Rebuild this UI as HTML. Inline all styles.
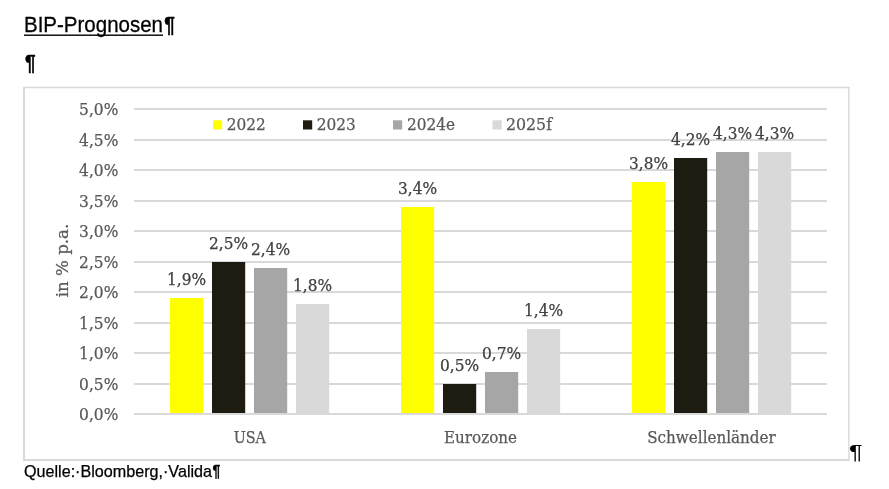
<!DOCTYPE html>
<html lang="de">
<head>
<meta charset="utf-8">
<title>BIP-Prognosen</title>
<style>
html,body{margin:0;padding:0;background:#fff;}
body{width:889px;height:489px;overflow:hidden;position:relative;}
svg{position:absolute;left:0;top:0;display:block;}
.sans{font-family:"Liberation Sans","DejaVu Sans",sans-serif;fill:#000;}
.serif{font-family:"DejaVu Serif","Liberation Serif",serif;font-size:16px;}
.ax{fill:#595959;stroke:#595959;stroke-width:0.25px;}
.dl{fill:#404040;stroke:#404040;stroke-width:0.25px;}
.pm{font-weight:bold;}
</style>
</head>
<body>
<svg width="889" height="489" viewBox="0 0 889 489">
<rect x="0" y="0" width="889" height="489" fill="#ffffff"/>

<!-- heading -->
<text class="sans" x="24" y="32" font-size="22.5" textLength="139" lengthAdjust="spacingAndGlyphs" stroke="#000" stroke-width="0.3">BIP-Prognosen</text>
<rect x="24" y="34.5" width="139" height="1.4" fill="#000"/>
<text class="sans pm" x="164.3" y="32.2" font-size="22.6" textLength="10.6" lengthAdjust="spacingAndGlyphs" stroke="#000" stroke-width="0.5">¶</text>
<text class="sans pm" x="25" y="69.9" font-size="22.8" textLength="10.6" lengthAdjust="spacingAndGlyphs" stroke="#000" stroke-width="0.5">¶</text>

<!-- chart frame -->
<g stroke="#d9d9d9" fill="none">
<line x1="24" x2="24" y1="86.9" y2="461" stroke-width="2"/>
<line x1="23" x2="849.6" y1="87.5" y2="87.5" stroke-width="1.3"/>
<line x1="848.9" x2="848.9" y1="86.9" y2="461" stroke-width="1.4"/>
<line x1="23" x2="849.6" y1="460" y2="460" stroke-width="2"/>
</g>

<!-- gridlines -->
<g stroke="#d9d9d9" stroke-width="2">
<line x1="134" x2="827" y1="109.0" y2="109.0"/>
<line x1="134" x2="827" y1="140.0" y2="140.0"/>
<line x1="134" x2="827" y1="170.0" y2="170.0"/>
<line x1="134" x2="827" y1="201.0" y2="201.0"/>
<line x1="134" x2="827" y1="231.0" y2="231.0"/>
<line x1="134" x2="827" y1="262.0" y2="262.0"/>
<line x1="134" x2="827" y1="292.0" y2="292.0"/>
<line x1="134" x2="827" y1="323.0" y2="323.0"/>
<line x1="134" x2="827" y1="353.0" y2="353.0"/>
<line x1="134" x2="827" y1="384.0" y2="384.0"/>
<line x1="134" x2="827" y1="414.0" y2="414.0"/>
</g>
<!-- y axis labels -->
<g class="serif ax">
<text x="79.1" y="115.0" textLength="39.2" lengthAdjust="spacingAndGlyphs">5,0%</text>
<text x="79.1" y="146.0" textLength="39.2" lengthAdjust="spacingAndGlyphs">4,5%</text>
<text x="79.1" y="176.0" textLength="39.2" lengthAdjust="spacingAndGlyphs">4,0%</text>
<text x="79.1" y="207.0" textLength="39.2" lengthAdjust="spacingAndGlyphs">3,5%</text>
<text x="79.1" y="237.0" textLength="39.2" lengthAdjust="spacingAndGlyphs">3,0%</text>
<text x="79.1" y="268.0" textLength="39.2" lengthAdjust="spacingAndGlyphs">2,5%</text>
<text x="79.1" y="298.0" textLength="39.2" lengthAdjust="spacingAndGlyphs">2,0%</text>
<text x="79.1" y="329.0" textLength="39.2" lengthAdjust="spacingAndGlyphs">1,5%</text>
<text x="79.1" y="359.0" textLength="39.2" lengthAdjust="spacingAndGlyphs">1,0%</text>
<text x="79.1" y="390.0" textLength="39.2" lengthAdjust="spacingAndGlyphs">0,5%</text>
<text x="79.1" y="420.0" textLength="39.2" lengthAdjust="spacingAndGlyphs">0,0%</text>
</g>
<text class="serif ax" transform="translate(67.6,297.2) rotate(-90)" textLength="73.5" lengthAdjust="spacingAndGlyphs">in % p.a.</text>
<!-- bars -->
<g fill="#ffff00">
<rect x="170" y="298.0" width="33.2" height="115.0"/>
<rect x="401" y="207.0" width="33.2" height="206.0"/>
<rect x="632" y="182.0" width="33.2" height="231.0"/>
</g>
<g fill="#1e1c11">
<rect x="212" y="262.0" width="33.2" height="151.0"/>
<rect x="443" y="384.0" width="33.2" height="29.0"/>
<rect x="674" y="158.0" width="33.2" height="255.0"/>
</g>
<g fill="#a6a6a6">
<rect x="254" y="268.0" width="33.2" height="145.0"/>
<rect x="485" y="372.0" width="33.2" height="41.0"/>
<rect x="716" y="152.0" width="33.2" height="261.0"/>
</g>
<g fill="#d9d9d9">
<rect x="296" y="304.0" width="33.2" height="109.0"/>
<rect x="527" y="329.0" width="33.2" height="84.0"/>
<rect x="758" y="152.0" width="33.2" height="261.0"/>
</g>
<!-- data labels -->
<g class="serif dl">
<text x="167.0" y="285.4" textLength="39.1" lengthAdjust="spacingAndGlyphs">1,9%</text>
<text x="209.0" y="249.4" textLength="39.1" lengthAdjust="spacingAndGlyphs">2,5%</text>
<text x="251.0" y="255.4" textLength="39.1" lengthAdjust="spacingAndGlyphs">2,4%</text>
<text x="293.0" y="291.4" textLength="39.1" lengthAdjust="spacingAndGlyphs">1,8%</text>
<text x="398.0" y="194.4" textLength="39.1" lengthAdjust="spacingAndGlyphs">3,4%</text>
<text x="440.0" y="371.4" textLength="39.1" lengthAdjust="spacingAndGlyphs">0,5%</text>
<text x="482.0" y="359.4" textLength="39.1" lengthAdjust="spacingAndGlyphs">0,7%</text>
<text x="524.0" y="316.4" textLength="39.1" lengthAdjust="spacingAndGlyphs">1,4%</text>
<text x="629.0" y="169.4" textLength="39.1" lengthAdjust="spacingAndGlyphs">3,8%</text>
<text x="671.0" y="145.4" textLength="39.1" lengthAdjust="spacingAndGlyphs">4,2%</text>
<text x="713.0" y="139.4" textLength="39.1" lengthAdjust="spacingAndGlyphs">4,3%</text>
<text x="755.0" y="139.4" textLength="39.1" lengthAdjust="spacingAndGlyphs">4,3%</text>
</g>
<!-- legend -->
<rect x="213" y="120.3" width="9.2" height="9.2" fill="#ffff00"/>
<rect x="303" y="120.3" width="9.2" height="9.2" fill="#1e1c11"/>
<rect x="393" y="120.3" width="9.2" height="9.2" fill="#a6a6a6"/>
<rect x="492.5" y="120.3" width="9.2" height="9.2" fill="#d9d9d9"/>
<g class="serif ax">
<text x="226.8" y="130" textLength="39" lengthAdjust="spacingAndGlyphs">2022</text>
<text x="316.8" y="130" textLength="39" lengthAdjust="spacingAndGlyphs">2023</text>
<text x="407" y="130" textLength="48" lengthAdjust="spacingAndGlyphs">2024e</text>
<text x="506" y="130" textLength="46" lengthAdjust="spacingAndGlyphs">2025f</text>
</g>
<!-- category labels -->
<g class="serif ax">
<text x="233.7" y="442.7" textLength="32.3" lengthAdjust="spacingAndGlyphs">USA</text>
<text x="444" y="442.7" textLength="73" lengthAdjust="spacingAndGlyphs">Eurozone</text>
<text x="647.2" y="442.7" textLength="128.6" lengthAdjust="spacingAndGlyphs">Schwellenländer</text>
</g>
<!-- trailing paragraph mark and source line -->
<text class="sans" x="849" y="459.0" font-size="19.6" textLength="13.6" lengthAdjust="spacingAndGlyphs">¶</text>
<text class="sans" x="24" y="477" font-size="15.9" textLength="188" lengthAdjust="spacingAndGlyphs" stroke="#000" stroke-width="0.25">Quelle:·Bloomberg,·Valida</text>
<text class="sans pm" x="212.4" y="476.6" font-size="15.6" textLength="7.8" lengthAdjust="spacingAndGlyphs" stroke="#000" stroke-width="0.3">¶</text>
</svg>
</body>
</html>
